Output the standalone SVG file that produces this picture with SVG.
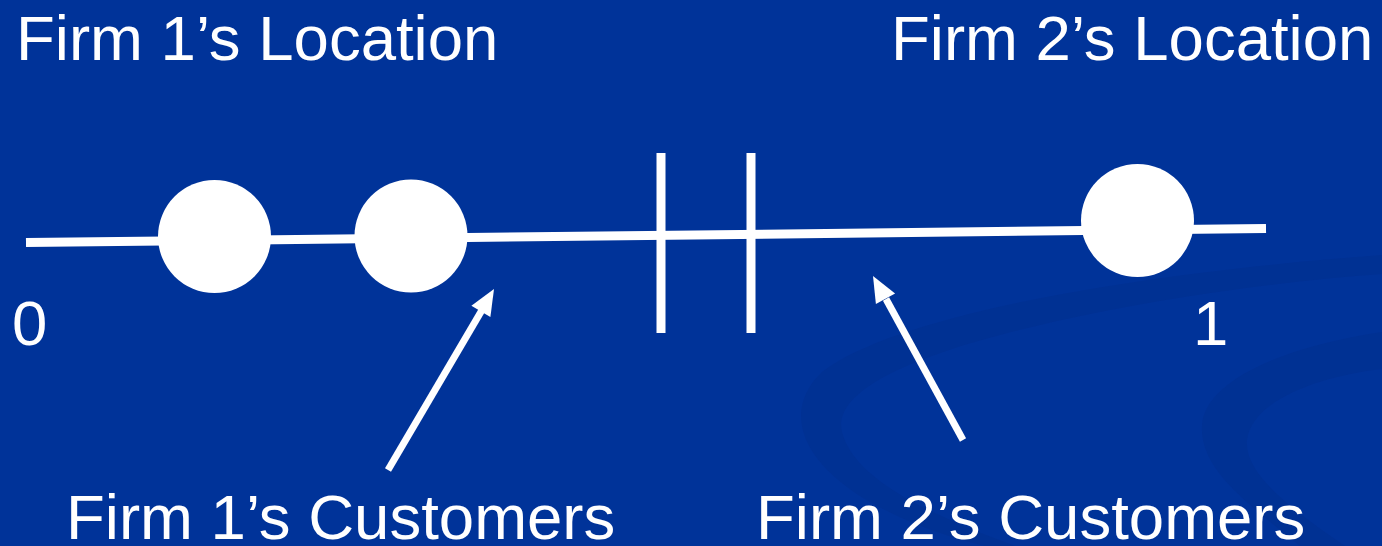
<svg xmlns="http://www.w3.org/2000/svg" width="1382" height="546" viewBox="0 0 1382 546">
<defs>
<style>
.t{font-family:"Liberation Sans",Arial,sans-serif;font-size:63.5px;fill:#ffffff}
.ln{stroke:#ffffff;fill:none}
.dot{fill:#ffffff}
.head{fill:#ffffff}
.sw{fill:#002e8c;opacity:0.45}
</style>
</defs>
<rect width="1382" height="546" fill="#003399"/>
<g id="background">
<path class="sw" d="M1382,255 C1150,272 900,312 822,372 C782,410 800,462 870,502 C905,522 945,536 985,546 L1015,546 C935,516 855,482 842,432 C830,382 950,342 1100,312 C1200,292 1300,280 1382,274 Z"/>
<path class="sw" d="M1382,332 C1280,347 1205,382 1202,425 C1199,470 1250,505 1300,546 L1345,546 C1285,505 1244,472 1247,440 C1252,400 1320,376 1382,369 Z"/>
</g>
<g id="connectors">
<line class="ln" x1="26" y1="242.5" x2="1266" y2="228.5" stroke-width="9"/>
<line class="ln" x1="661" y1="153" x2="661" y2="333" stroke-width="9"/>
<line class="ln" x1="751" y1="153" x2="751" y2="333" stroke-width="9"/>
<line class="ln" x1="388" y1="470" x2="482" y2="310" stroke-width="7"/>
<polygon class="head" points="494,289 490.4,317 471.4,305.8"/>
<line class="ln" x1="963" y1="440" x2="886" y2="299" stroke-width="7"/>
<polygon class="head" points="873,276 895.1,293.5 875.9,304.1"/>
</g>
<g id="firm1"><circle class="dot" cx="214.5" cy="236.5" r="56.5"/></g>
<g id="firm1b"><circle class="dot" cx="411" cy="236" r="56.5"/></g>
<g id="firm2"><circle class="dot" cx="1137.5" cy="220.5" r="56.5"/></g>
<g id="labels">
<text class="t" x="16" y="60">Firm 1’s Location</text>
<text class="t" x="891" y="60">Firm 2’s Location</text>
<text class="t" x="12" y="345">0</text>
<text class="t" x="1193" y="345">1</text>
<text class="t" x="66" y="539">Firm 1’s Customers</text>
<text class="t" x="756" y="539">Firm 2’s Customers</text>
</g>
</svg>
